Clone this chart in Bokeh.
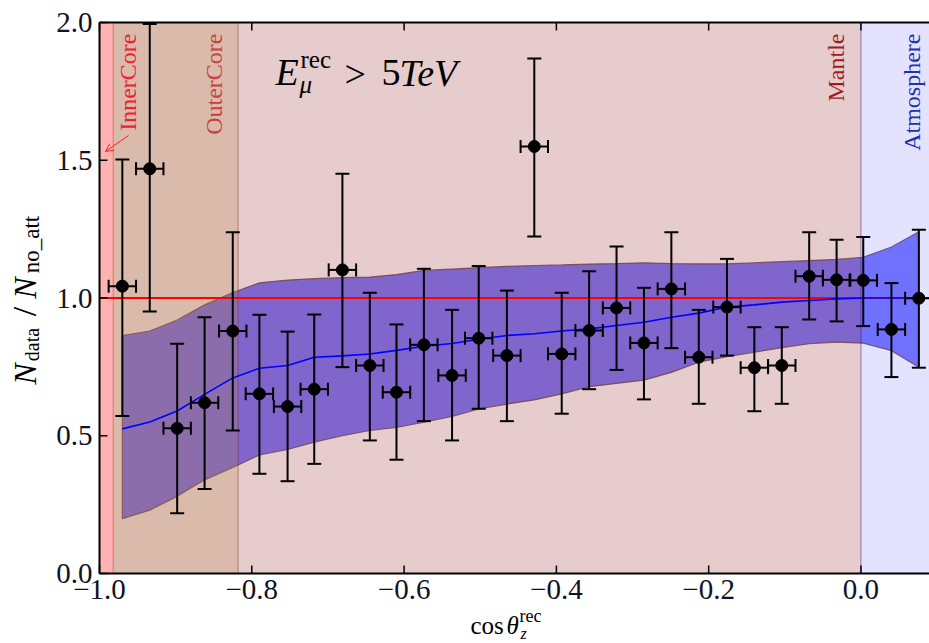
import math
from bokeh.plotting import figure
from bokeh.models import Range1d, Arrow, OpenHead
from bokeh.core.properties import value
from bokeh.embed import file_html
from bokeh.resources import INLINE

# ---------------- data ----------------
cos_z = [-0.970, -0.934, -0.898, -0.862, -0.825, -0.790, -0.753, -0.718, -0.681, -0.645,
         -0.610, -0.574, -0.537, -0.502, -0.465, -0.429, -0.393, -0.357, -0.321, -0.285,
         -0.249, -0.213, -0.176, -0.140, -0.104, -0.068, -0.032, 0.003, 0.040, 0.076]
ratio = [1.043, 1.469, 0.527, 0.620, 0.880, 0.652, 0.606, 0.669, 1.102, 0.755,
         0.658, 0.830, 0.719, 0.854, 0.791, 1.550, 0.797, 0.882, 0.964, 0.837,
         1.033, 0.785, 0.967, 0.747, 0.755, 1.079, 1.066, 1.064, 0.886, 0.999]
ratio_lo = [0.572, 0.951, 0.219, 0.307, 0.519, 0.362, 0.335, 0.398, 0.749, 0.483,
            0.413, 0.553, 0.483, 0.598, 0.553, 1.223, 0.580, 0.669, 0.739, 0.632,
            0.818, 0.616, 0.791, 0.589, 0.616, 0.922, 0.915, 0.898, 0.713, 0.747]
ratio_hi = [1.503, 1.995, 0.834, 0.930, 1.239, 0.939, 0.878, 0.940, 1.451, 1.019,
            0.904, 1.106, 0.957, 1.116, 1.027, 1.869, 1.019, 1.097, 1.187, 1.037,
            1.239, 0.957, 1.142, 0.894, 0.894, 1.239, 1.211, 1.221, 1.054, 1.248]
bin_half = 0.018

pred_mid = [0.525, 0.550, 0.590, 0.650, 0.710, 0.745, 0.755, 0.785, 0.790, 0.797,
            0.810, 0.825, 0.835, 0.850, 0.864, 0.870, 0.880, 0.888, 0.900, 0.912,
            0.930, 0.945, 0.967, 0.975, 0.985, 0.991, 0.997, 1.000, 1.000, 1.000]
pred_lo = [0.199, 0.230, 0.280, 0.340, 0.385, 0.430, 0.450, 0.477, 0.500, 0.519,
           0.530, 0.549, 0.570, 0.597, 0.615, 0.630, 0.652, 0.678, 0.690, 0.702,
           0.730, 0.767, 0.787, 0.803, 0.820, 0.834, 0.840, 0.836, 0.809, 0.749]
pred_hi = [0.864, 0.880, 0.920, 0.975, 1.020, 1.055, 1.065, 1.070, 1.074, 1.076,
           1.085, 1.100, 1.105, 1.110, 1.115, 1.118, 1.120, 1.123, 1.125, 1.128,
           1.125, 1.124, 1.124, 1.128, 1.132, 1.136, 1.140, 1.148, 1.185, 1.240]

region_edges = [-1.0, -0.982, -0.818, 0.0, 0.09]
region_names = ["InnerCore", "OuterCore", "Mantle", "Atmosphere"]
region_fill = ["#ff0000", "#a0522d", "#800000", "#0000ff"]
region_alpha = [0.30, 0.40, 0.20, 0.11]
region_text_color = ["#f02030", "#c84040", "#a01c1c", "#2030b0"]

x_ticks = [-1.0, -0.8, -0.6, -0.4, -0.2, 0.0]
x_tick_labels = ["\u22121.0", "\u22120.8", "\u22120.6", "\u22120.4", "\u22120.2", "0.0"]
y_ticks = [0.0, 0.5, 1.0, 1.5, 2.0]
y_tick_labels = ["0.0", "0.5", "1.0", "1.5", "2.0"]
unity = 1.0

# plot-area limits
X0, X1 = -1.0, 0.09
Y0, Y1 = 0.0, 2.0
FONT = "Liberation Serif"

# ---------------- layout: frame covers the whole canvas -----------------
W, H = 929, 643
LEFT_PX, RIGHT_PX, TOP_PX, BOTTOM_PX = 99, 929, 22, 573
kx = (X1 - X0) / (RIGHT_PX - LEFT_PX)
ky = (Y1 - Y0) / (BOTTOM_PX - TOP_PX)
XL = X0 - LEFT_PX * kx
XR = X1 + (W - RIGHT_PX) * kx
YT = Y1 + TOP_PX * ky
YB = Y0 - (H - BOTTOM_PX) * ky

def px_x(px):
    return XL + px * kx

def px_y(py):
    return YT - py * ky

p = figure(width=W, height=H, x_range=Range1d(XL, XR), y_range=Range1d(YB, YT),
           output_backend="svg", toolbar_location=None, title_location=None,
           x_axis_type=None, y_axis_type=None,
           min_border_left=0, min_border_right=0, min_border_top=0, min_border_bottom=0)
p.xgrid.visible = False
p.ygrid.visible = False
p.outline_line_color = None
p.background_fill_color = "white"
p.border_fill_color = "white"

# prediction band (regions tint it afterwards)
band_x = cos_z + cos_z[::-1]
band_y = pred_hi + pred_lo[::-1]
p.patch(band_x, band_y, fill_color="#0000ff", fill_alpha=0.5,
        line_color="#6a5050", line_alpha=0.8, line_width=1.2)

# Earth regions
p.quad(left=region_edges[:-1], right=region_edges[1:], bottom=Y0, top=Y1,
       fill_color=region_fill, fill_alpha=region_alpha,
       line_color=region_fill, line_alpha=0.25, line_width=1)

# reference line and prediction
p.line([X0, X1], [unity, unity], line_color="#ff0000", line_width=2)
p.line(cos_z, pred_mid, line_color="#0000ff", line_width=1.6)

# data with error bars
x_lo = [x - bin_half for x in cos_z]
x_hi = [x + bin_half for x in cos_z]
p.segment(x0=cos_z, y0=ratio_lo, x1=cos_z, y1=ratio_hi, line_color="black", line_width=2)
p.segment(x0=x_lo, y0=ratio, x1=x_hi, y1=ratio, line_color="black", line_width=2)
p.scatter(cos_z + cos_z, ratio_lo + ratio_hi, marker="dash", size=14,
          line_color="black", line_width=2)
p.scatter(x_lo + x_hi, ratio + ratio, marker="dash", size=13, angle=math.pi / 2,
          line_color="black", line_width=2)
p.scatter(cos_z, ratio, marker="circle", size=12, fill_color="black", line_color="black")

# cover anything spilling right of the plot area
p.quad(left=[X1], right=[XR], bottom=[YB], top=[YT], fill_color="white", line_color=None)

# ---------------- axes (drawn through the scales) ----------------
p.segment(x0=[X0, X0, X0], y0=[Y0, Y0, Y1], x1=[X0, X1, X1], y1=[Y1, Y0, Y1],
          line_color="black", line_width=2)
p.ray(x=x_ticks, y=[Y0] * len(x_ticks), length=8, length_units="screen",
      angle=math.pi / 2, line_color="black", line_width=1.5)
p.ray(x=x_ticks, y=[Y1] * len(x_ticks), length=8, length_units="screen",
      angle=-math.pi / 2, line_color="black", line_width=1.5)
p.ray(x=[X0] * len(y_ticks), y=y_ticks, length=8, length_units="screen",
      angle=0.0, line_color="black", line_width=1.5)

p.text(x=x_ticks, y=[px_y(BOTTOM_PX + 6)] * len(x_ticks), text=x_tick_labels,
       text_font=value(FONT), text_font_size="29px", text_color="#111122",
       text_align="center", text_baseline="top")
p.text(x=[px_x(LEFT_PX - 7)] * len(y_ticks), y=y_ticks, text=y_tick_labels,
       text_font=value(FONT), text_font_size="29px", text_color="#111122",
       text_align="right", text_baseline="middle")

# ---------------- text (positions are visual centres) ----------------
def lab(text, px, py, size, color="black", style="normal", angle=0.0, align="left"):
    p.text(x=[px_x(px)], y=[px_y(py)], text=[text], text_font=value(FONT),
           text_font_size=f"{size}px", text_color=color, text_font_style=style,
           angle=angle, text_align=align, text_baseline="middle")

# region names (rotated)
region_label_px = [127.5, 213.5, 835.5, 911.0]
for name, cx, col in zip(region_names, region_label_px, region_text_color):
    lab(name, cx, 33, 24, color=col, angle=math.pi / 2, align="right")

p.add_layout(Arrow(end=OpenHead(size=8, line_color="#ff2020", line_width=1),
                   x_start=px_x(128), y_start=px_y(135), x_end=px_x(105), y_end=px_y(151),
                   line_color="#ff2020", line_width=1))

# energy cut annotation
lab("E", 275, 71.5, 38, style="italic")
lab("rec", 300, 58.5, 25)
lab("\u03bc", 299, 84, 25, style="italic")
lab(">", 344, 73.5, 38)
lab("5", 381, 72, 38)
lab("TeV", 399, 72, 38, style="italic")

# y axis label (rotated pieces)
R = math.pi / 2
lab("N", 24, 373.5, 32, style="italic", angle=R, align="center")
lab("data", 31.5, 344, 20, angle=R, align="center")
lab("/", 24, 311, 34, angle=R, align="center")
lab("N", 24, 287.5, 32, style="italic", angle=R, align="center")
lab("no_att", 30.5, 244, 23, angle=R, align="center")

# x axis label
lab("cos", 470, 625, 25)
lab("\u03b8", 506, 625, 25, style="italic")
lab("rec", 519, 615, 18)
lab("z", 520, 633, 16, style="italic")

open("out.html", "w").write(file_html(p, INLINE))
